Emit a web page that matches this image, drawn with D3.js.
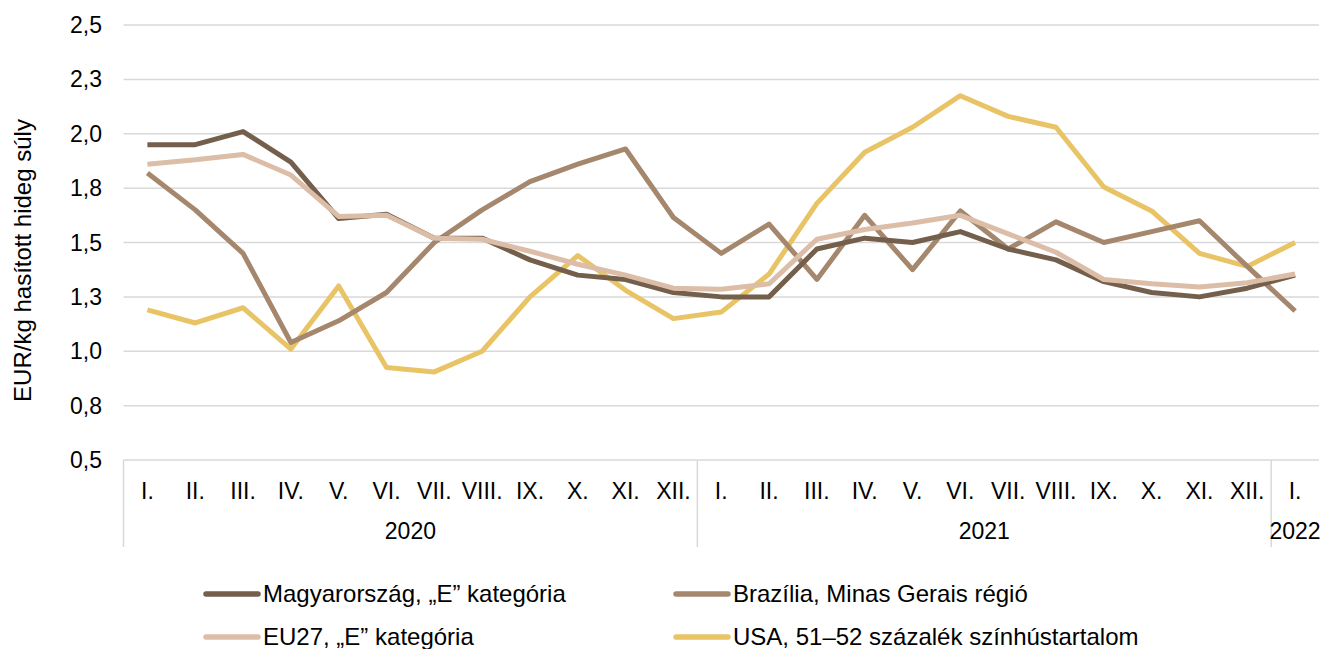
<!DOCTYPE html>
<html>
<head>
<meta charset="utf-8">
<script src="https://cdn.jsdelivr.net/npm/d3@7"></script>
<style>
  html, body { margin: 0; padding: 0; background: #fff; }
  svg { display: block; font-family: "Liberation Sans", Arial, sans-serif; }
</style>
</head>
<body>
<svg id="chart" width="1324" height="649"></svg>
<script>
const months = ["I.","II.","III.","IV.","V.","VI.","VII.","VIII.","IX.","X.","XI.","XII.",
                "I.","II.","III.","IV.","V.","VI.","VII.","VIII.","IX.","X.","XI.","XII.","I."];
const years = [
  { label: "2020", start: 0, end: 12 },
  { label: "2021", start: 12, end: 24 },
  { label: "2022", start: 24, end: 25 }
];
const yTicks = [0.5, 0.75, 1.0, 1.25, 1.5, 1.75, 2.0, 2.25, 2.5];
const yTickLabels = ["0,5","0,8","1,0","1,3","1,5","1,8","2,0","2,3","2,5"];
const yTitle = "EUR/kg hasított hideg súly";

const seriesNames = ["Magyarország, „E” kategória", "Brazília, Minas Gerais régió",
                     "EU27, „E” kategória", "USA, 51–52 százalék színhústartalom"];
const hungary = [1.95,1.95,2.01,1.87,1.61,1.63,1.52,1.52,1.42,1.35,1.33,1.27,
                 1.25,1.25,1.47,1.52,1.50,1.55,1.47,1.42,1.32,1.27,1.25,1.29,1.35];
const brazil  = [1.82,1.65,1.45,1.04,1.14,1.27,1.50,1.65,1.78,1.86,1.93,1.615,
                 1.45,1.585,1.33,1.625,1.375,1.645,1.47,1.595,1.50,1.55,1.60,1.39,1.185];
const eu27    = [1.86,1.88,1.905,1.81,1.62,1.625,1.52,1.515,1.46,1.40,1.35,1.29,
                 1.285,1.31,1.515,1.56,1.59,1.625,1.54,1.455,1.33,1.31,1.295,1.315,1.355];
const usa     = [1.19,1.13,1.20,1.01,1.30,0.925,0.905,1.00,1.25,1.44,1.28,1.15,
                 1.18,1.355,1.68,1.915,2.03,2.175,2.08,2.03,1.755,1.645,1.45,1.39,1.50];
const seriesColors = ["#735f4b", "#a5876d", "#dcbea8", "#e8c466"];

const seriesData = [hungary, brazil, eu27, usa];
const drawOrder = [3, 1, 0, 2]; // z-order of lines

const svg = d3.select("#chart");
const margin = { left: 123.5, right: 1319, top: 25, bottom: 460 };
const tickFont = 23;
const bigFont = 24;

const x = d3.scaleBand().domain(d3.range(months.length)).range([margin.left, margin.right]).padding(0);
const xc = i => x(i) + x.bandwidth() / 2;
const y = d3.scaleLinear().domain([0.5, 2.5]).range([margin.bottom, margin.top]);

// gridlines
svg.append("g").selectAll("line").data(yTicks).join("line")
  .attr("x1", margin.left).attr("x2", margin.right)
  .attr("y1", d => y(d)).attr("y2", d => y(d))
  .attr("stroke", "#d9d9d9").attr("stroke-width", 1.5);

// y tick labels
svg.append("g").selectAll("text").data(yTicks).join("text")
  .attr("x", 102).attr("y", d => y(d)).attr("dy", "0.35em")
  .attr("text-anchor", "end").attr("font-size", tickFont).attr("fill", "#000")
  .text((d, i) => yTickLabels[i]);

// y title
svg.append("text")
  .attr("transform", `translate(31,${(margin.top + margin.bottom) / 2 + 18}) rotate(-90)`)
  .attr("text-anchor", "middle").attr("font-size", bigFont).attr("fill", "#000")
  .text(yTitle);

// x axis category box
const axisBottom = 547;
const boundaries = [0, 12, 24];
svg.append("g").selectAll("line").data(boundaries).join("line")
  .attr("x1", d => x(d)).attr("x2", d => x(d))
  .attr("y1", margin.bottom).attr("y2", axisBottom)
  .attr("stroke", "#d9d9d9").attr("stroke-width", 1.5);

svg.append("g").selectAll("text").data(months).join("text")
  .attr("x", (d, i) => xc(i)).attr("y", 491).attr("dy", "0.35em")
  .attr("text-anchor", "middle").attr("font-size", tickFont).attr("fill", "#000")
  .text(d => d);

svg.append("g").selectAll("text").data(years).join("text")
  .attr("x", d => (x(d.start) + (d.end < months.length ? x(d.end) : margin.right)) / 2)
  .attr("y", 531).attr("dy", "0.35em")
  .attr("text-anchor", "middle").attr("font-size", tickFont).attr("fill", "#000")
  .text(d => d.label);

// lines
const line = d3.line().x((d, i) => xc(i)).y(d => y(d));
svg.append("g").selectAll("path").data(drawOrder).join("path")
  .attr("d", k => line(seriesData[k]))
  .attr("fill", "none")
  .attr("stroke", k => seriesColors[k])
  .attr("stroke-width", 5)
  .attr("stroke-linejoin", "round")
  .attr("stroke-linecap", "butt");

// legend
const legendPos = [
  { x: 206, y: 594 }, { x: 676, y: 594 },
  { x: 206, y: 637 }, { x: 676, y: 637 }
];
const lg = svg.append("g").selectAll("g").data(seriesNames).join("g")
  .attr("transform", (d, i) => `translate(${legendPos[i].x},${legendPos[i].y})`);
lg.append("line").attr("x1", 0).attr("x2", 52).attr("y1", 0).attr("y2", 0)
  .attr("stroke", (d, i) => seriesColors[i]).attr("stroke-width", 5.5).attr("stroke-linecap", "round");
lg.append("text").attr("x", 57).attr("y", 0).attr("dy", "0.35em")
  .attr("font-size", bigFont).attr("fill", "#000").text(d => d);
</script>
</body>
</html>
